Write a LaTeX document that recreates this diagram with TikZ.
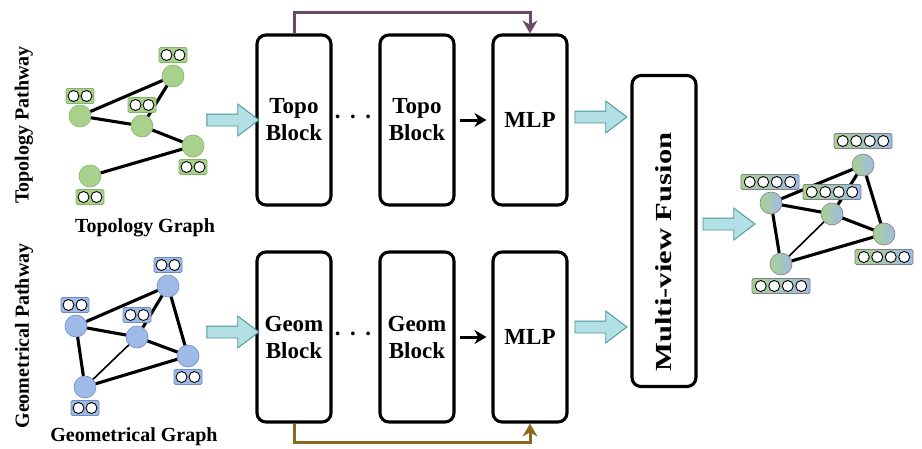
\documentclass[tikz,border=0pt]{standalone}
\usepackage{fontspec}
\setmainfont{Liberation Serif}
\usetikzlibrary{shapes,arrows.meta,positioning,calc}
\definecolor{topofill}{RGB}{169,209,142}
\definecolor{topoline}{RGB}{130,180,100}
\definecolor{geomfill}{RGB}{160,186,232}
\definecolor{geomline}{RGB}{108,140,200}
\definecolor{arrowfill}{RGB}{178,224,228}
\definecolor{arrowline}{RGB}{70,148,158}
\definecolor{skiptopo}{RGB}{106,74,104}
\definecolor{skipgeom}{RGB}{139,106,30}

\tikzset{
  pics/pair/.style={code={
      \node[featbox=#1,minimum width=28pt] (-box) {};
      \node[featdot] (-a) at (-6.5,0) {};
      \node[featdot] (-b) at (6.5,0) {};
    }},
  pics/quad/.style={code={
      \node[featmix,minimum width=58pt] (-box) {};
      \foreach \k in {1,...,4}
        \node[featdot] (-d\k) at ({(\k-2.5)*13.5},0) {};
    }}
}

\begin{document}
\begin{tikzpicture}[% sizes are in pixels of the figure
    x=1pt,y=-1pt,
    every node/.style={align=center},
    block/.style={rectangle,draw,rounded corners=9pt,line width=3.1pt,
      minimum width=74pt,minimum height=170pt,
      font=\fontsize{23}{27}\selectfont\bfseries},
    bigarrow/.style={single arrow,draw=arrowline,fill=arrowfill,line width=0.9pt,
      minimum height=52pt,inner xsep=0pt,inner ysep=5.5pt,
      single arrow head extend=10pt,single arrow tip angle=74},
    label/.style={font=\fontsize{20}{23}\selectfont\bfseries},
    tnode/.style={circle,draw=topoline,fill=topofill,minimum size=22pt,inner sep=0pt,line width=0.6pt},
    gnode/.style={circle,draw=geomline,fill=geomfill,minimum size=22pt,inner sep=0pt,line width=0.6pt},
    fnode/.style={circle,draw=gray,left color=topofill,right color=geomfill,minimum size=22pt,inner sep=0pt,line width=0.6pt},
    featbox/.style={rectangle,rounded corners=1.5pt,draw=#1line,fill=#1fill,minimum height=15pt,inner sep=0pt,line width=0.8pt},
    featmix/.style={rectangle,rounded corners=1.5pt,draw=gray,left color=topofill,right color=geomfill,minimum height=15pt,inner sep=0pt,line width=0.8pt},
    featdot/.style={circle,draw=black,fill=white,minimum size=11pt,inner sep=0pt,line width=0.9pt},
    link/.style={line width=3.1pt},
    thinlink/.style={line width=1.6pt}
  ]
  \useasboundingbox (0,0) rectangle (922,448);

  % pathway titles
  \node[label,rotate=90] (topoPath) at (24,125) {Topology Pathway};
  \node[label,rotate=90] (geomPath) at (24,336) {Geometrical Pathway};

  % topology graph
  \node[tnode] (t1) at (173,76) {};
  \node[tnode] (t2) at (80,116) {};
  \node[tnode] (t3) at (142,126) {};
  \node[tnode] (t4) at (193,146) {};
  \node[tnode] (t5) at (90,176) {};
  \draw[link] (t2)--(t1) (t1)--(t3) (t2)--(t3) (t3)--(t4) (t4)--(t5);
  \pic (tf1) at (173,55) {pair=topo};
  \pic (tf2) at (80,96) {pair=topo};
  \pic (tf3) at (142,105) {pair=topo};
  \pic (tf4) at (193,167) {pair=topo};
  \pic (tf5) at (90,197) {pair=topo};
  \node[label] (topoGraph) at (145,228) {Topology Graph};

  % geometrical graph
  \node[gnode] (g1) at (168,286) {};
  \node[gnode] (g2) at (76,326) {};
  \node[gnode] (g3) at (137,337) {};
  \node[gnode] (g4) at (188,356) {};
  \node[gnode] (g5) at (85,387) {};
  \draw[link] (g2)--(g1) (g1)--(g3) (g1)--(g4) (g2)--(g3) (g3)--(g4)
    (g2)--(g5) (g5)--(g4);
  \draw[thinlink] (g5)--(g3);
  \pic (gf1) at (168,265) {pair=geom};
  \pic (gf2) at (75,305) {pair=geom};
  \pic (gf3) at (137,315) {pair=geom};
  \pic (gf4) at (188,377) {pair=geom};
  \pic (gf5) at (85,408) {pair=geom};
  \node[label] (geomGraph) at (134,437) {Geometrical Graph};

  % blocks
  \node[block] (T1) at (294,120) {Topo\\Block};
  \node[block] (T2) at (417,120) {Topo\\Block};
  \node[block] (TM) at (530,120) {MLP};
  \node[block] (G1) at (294,337) {Geom\\Block};
  \node[block] (G2) at (417,337) {Geom\\Block};
  \node[block] (GM) at (530,337) {MLP};
  \node[font=\fontsize{23}{26}\selectfont\bfseries] (dotsT) at (353,120) {·\hspace{7.5pt}·\hspace{7.5pt}·};
  \node[font=\fontsize{23}{26}\selectfont\bfseries] (dotsG) at (353,337) {·\hspace{7.5pt}·\hspace{7.5pt}·};
  \draw[line width=3pt,-{Stealth[length=12pt,width=14pt]},shorten <=4pt,shorten >=5pt] (T2)--(TM);
  \draw[line width=3pt,-{Stealth[length=12pt,width=14pt]},shorten <=4pt,shorten >=5pt] (G2)--(GM);

  % skip connections
  \coordinate (topBus) at (0,12);
  \coordinate (botBus) at (0,442);
  \draw[skiptopo,line width=3pt,-{Stealth[length=13pt,width=15pt]}]
    (T1.north) -- (T1.north |- topBus) -| (TM.north);
  \draw[skipgeom,line width=3pt,-{Stealth[length=13pt,width=15pt]}]
    (G1.south) -- (G1.south |- botBus) -| (GM.south);

  % fusion
  \node[rectangle,draw,rounded corners=9pt,line width=3.1pt,
    minimum width=64pt,minimum height=311pt] (fusion) at (664,231) {};
  \node[rotate=90,font=\fontsize{23}{27}\selectfont\bfseries] (fusionText)
    at ($(fusion.center)+(0,21)$) {\scalebox{1.33}[1]{Multi-view Fusion}};

  % wide arrows
  \node[bigarrow] (a1) at (229,120) {};
  \node[bigarrow] (a2) at (229,332) {};
  \node[bigarrow] (a3) at (597,117) {};
  \node[bigarrow] (a4) at (597,327) {};
  \node[bigarrow] (a5) at (725,224) {};

  % fused graph
  \node[fnode] (f1) at (863,165) {};
  \node[fnode] (f2) at (771,203) {};
  \node[fnode] (f3) at (832,214) {};
  \node[fnode] (f4) at (884,234) {};
  \node[fnode] (f5) at (781,264) {};
  \draw[link] (f2)--(f1) (f1)--(f3) (f1)--(f4) (f2)--(f3) (f3)--(f4)
    (f2)--(f5) (f5)--(f4);
  \draw[thinlink] (f5)--(f3);
  \pic (ff1) at (863,141) {quad};
  \pic (ff2) at (770,182) {quad};
  \pic (ff3) at (832,192) {quad};
  \pic (ff4) at (884,257) {quad};
  \pic (ff5) at (781,286) {quad};
\end{tikzpicture}
\end{document}
